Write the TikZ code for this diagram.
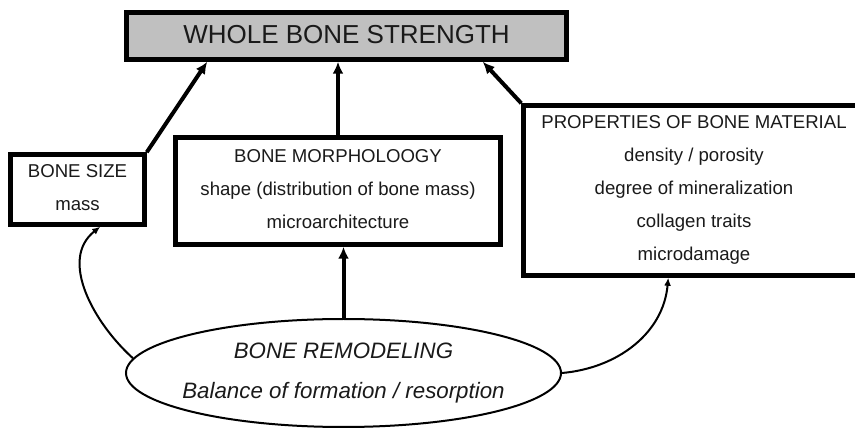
\documentclass[tikz,border=0pt]{standalone}
\usepackage{fontspec}
\usepackage{xcolor}
\usepackage{tikz}
\usetikzlibrary{arrows.meta,calc,positioning,shapes.geometric}
\setmainfont{Liberation Sans}
\definecolor{bsInk}{HTML}{1A1A1A}
\definecolor{bsGray}{HTML}{C0C0C0}
\tikzset{
  bsbox/.style={
    draw=black,
    fill=#1,
    line width=4.5pt,
    align=center,
    inner sep=0pt,
    text depth=4pt,
    text=bsInk,
    font=\fontsize{18.6pt}{33pt}\selectfont
  },
  bsbox/.default=white,
  bsarrow/.style={-{Latex[length=12pt,width=11pt]}, line width=4pt, draw=black},
  bscurve/.style={-{Latex[length=8pt,width=7pt]}, line width=2pt, draw=black}
}

\begin{document}
\begin{tikzpicture}[x=1pt,y=-1pt]
  \useasboundingbox (0,0) rectangle (855,430);
  \node[bsbox=bsGray, minimum width=440pt, minimum height=47pt, font=\fontsize{26pt}{30pt}\selectfont] (strength) at (346.5,36) {WHOLE BONE STRENGTH};

  \node[bsbox, minimum width=134pt, minimum height=70pt] (size) at (77.5,189.5) {BONE SIZE\\mass};
  \node[bsbox, minimum width=325pt, minimum height=107pt] (morph) at (338,191) {BONE MORPHOLOOGY\\shape (distribution of bone mass)\\microarchitecture};
  \node[bsbox, minimum width=341pt, minimum height=170pt] (props) at (694,190.5) {PROPERTIES OF BONE MATERIAL\\density / porosity\\degree of mineralization\\collagen traits\\microdamage};

  \node[ellipse, draw=black, line width=2pt, fill=white, minimum width=435pt, minimum height=108pt, inner sep=0pt] (remodel) at (343.5,373) {};
  \node[text=bsInk, align=center, font=\itshape\fontsize{22.3pt}{40pt}\selectfont] (remodeltext) at (remodel) {BONE REMODELING\\Balance of formation / resorption};

  \draw[bsarrow] (size.north east) -- ($(strength.south west)+(83,0)$);
  \draw[bsarrow] (morph.north) -- (morph.north |- strength.south);
  \draw[bsarrow] (props.north west) -- ($(strength.south east)+(-86,0)$);
  \draw[bsarrow] (remodel.north) -- (remodel.north |- morph.south);
  \draw[bscurve] (remodel.176) to[out=138,in=218] ($(size.south west)+(92,0)$);
  \draw[bscurve] (remodel.east) to[out=5,in=265] ($(props.south west)+(147,0)$);
\end{tikzpicture}
\end{document}
